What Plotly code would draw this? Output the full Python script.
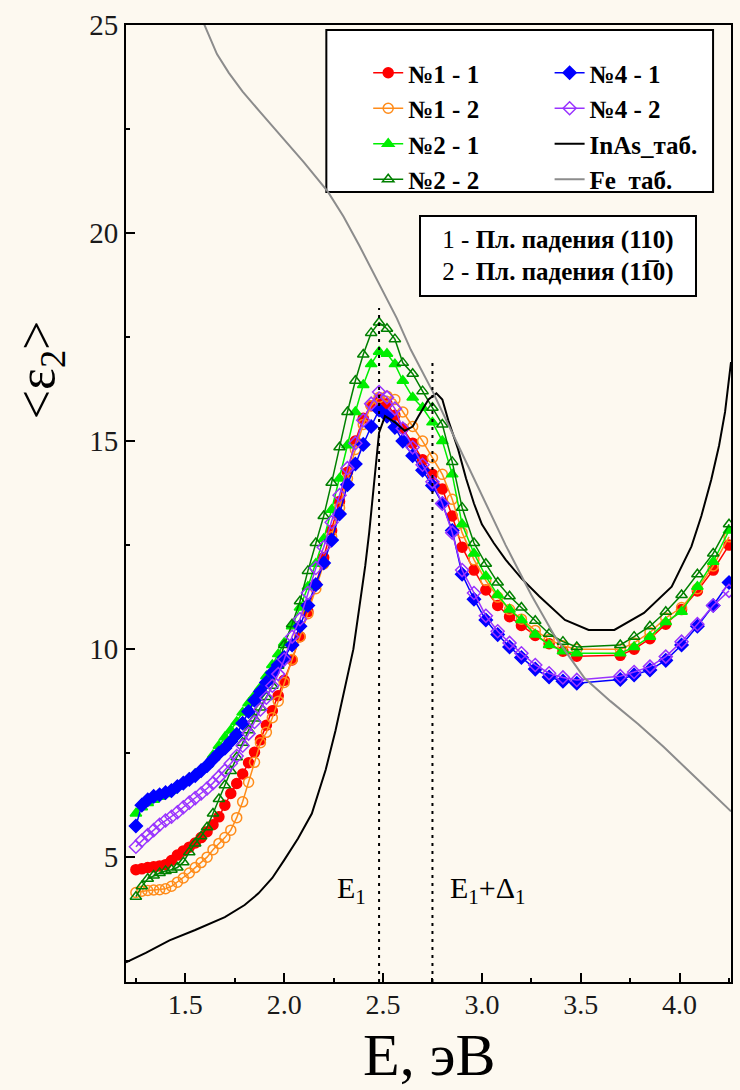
import plotly.graph_objects as go

# ---------------- data ----------------
E = [1.25, 1.28, 1.31, 1.34, 1.37, 1.40, 1.43, 1.46, 1.49, 1.52, 1.55, 1.58, 1.61, 1.64, 1.67,
     1.70, 1.73, 1.76, 1.79, 1.82, 1.85, 1.88, 1.91, 1.94, 1.97, 2.00, 2.04, 2.08, 2.12, 2.16,
     2.20, 2.24, 2.28, 2.32, 2.36, 2.40, 2.44, 2.48, 2.52, 2.56, 2.60, 2.65, 2.70, 2.75, 2.80,
     2.85, 2.90, 2.96, 3.02, 3.08, 3.14, 3.20, 3.27, 3.34, 3.41, 3.48, 3.70, 3.77, 3.85, 3.93,
     4.01, 4.09, 4.17, 4.25]

s1_1 = [4.70, 4.72, 4.75, 4.77, 4.79, 4.82, 4.92, 5.05, 5.15, 5.24, 5.34, 5.47, 5.61, 5.78, 5.97,
        6.25, 6.53, 6.77, 7.00, 7.27, 7.52, 7.82, 8.17, 8.52, 8.88, 9.25, 9.74, 10.30, 10.90, 11.55,
        12.20, 12.85, 13.55, 14.25, 15.00, 15.55, 15.85, 16.00, 15.90, 15.62, 15.30, 14.95, 14.55, 14.20, 13.85,
        13.20, 12.45, 11.90, 11.42, 11.05, 10.78, 10.57, 10.33, 10.13, 9.95, 9.83, 9.85, 10.00, 10.25, 10.60,
        10.95, 11.40, 11.90, 12.50]

s1_2 = [4.15, 4.18, 4.20, 4.21, 4.22, 4.24, 4.30, 4.40, 4.50, 4.62, 4.75, 4.87, 5.00, 5.18, 5.33,
        5.47, 5.65, 5.95, 6.33, 6.80, 7.28, 7.75, 8.00, 8.35, 8.75, 9.20, 9.75, 10.30, 10.85, 11.45,
        12.05, 12.70, 13.40, 14.10, 14.80, 15.40, 15.85, 16.05, 16.08, 16.00, 15.70, 15.35, 15.00, 14.60, 14.20,
        13.60, 12.80, 12.15, 11.65, 11.25, 10.95, 10.72, 10.45, 10.23, 10.08, 10.00, 10.00, 10.15, 10.40, 10.75,
        11.00, 11.45, 12.00, 12.70]

s2_1 = [6.05, 6.20, 6.30, 6.38, 6.45, 6.52, 6.60, 6.70, 6.80, 6.90, 7.00, 7.10, 7.22, 7.45, 7.68,
        7.88, 8.05, 8.25, 8.48, 8.70, 8.88, 9.08, 9.35, 9.62, 9.88, 10.15, 10.55, 11.00, 11.50, 12.05,
        12.65, 13.35, 14.10, 14.90, 15.70, 16.35, 16.85, 17.15, 17.10, 16.85, 16.45, 16.05, 15.80, 15.45, 15.00,
        14.20, 13.00, 12.30, 11.75, 11.30, 10.95, 10.70, 10.35, 10.10, 9.95, 9.90, 9.90, 10.05, 10.30, 10.65,
        10.90, 11.50, 12.10, 12.85]

s2_2 = [4.05, 4.30, 4.48, 4.56, 4.62, 4.67, 4.70, 4.75, 4.88, 5.12, 5.33, 5.50, 5.72, 6.05, 6.40,
        6.73, 7.07, 7.40, 7.75, 8.05, 8.33, 8.60, 8.85, 9.12, 9.60, 10.10, 10.60, 11.15, 11.88, 12.55,
        13.20, 14.00, 14.85, 15.70, 16.45, 17.08, 17.60, 17.85, 17.70, 17.45, 16.88, 16.62, 16.20, 15.80, 15.40,
        14.50, 13.40, 12.55, 12.05, 11.60, 11.27, 11.00, 10.68, 10.37, 10.18, 10.05, 10.10, 10.30, 10.55, 10.90,
        11.30, 11.80, 12.30, 13.00]

s4_1 = [5.75, 6.25, 6.38, 6.46, 6.50, 6.55, 6.60, 6.70, 6.78, 6.87, 6.96, 7.08, 7.20, 7.35, 7.50,
        7.62, 7.78, 7.95, 8.22, 8.50, 8.77, 8.98, 9.20, 9.43, 9.62, 9.80, 10.10, 10.55, 11.05, 11.55,
        12.07, 12.62, 13.25, 13.95, 14.45, 14.92, 15.35, 15.75, 15.60, 15.33, 15.00, 14.65, 14.30, 13.93, 13.50,
        12.85, 11.80, 11.20, 10.70, 10.35, 10.05, 9.80, 9.52, 9.33, 9.23, 9.18, 9.27, 9.38, 9.50, 9.73,
        10.10, 10.55, 11.05, 11.60]

s4_2 = [5.25, 5.40, 5.53, 5.65, 5.78, 5.88, 5.97, 6.08, 6.20, 6.31, 6.42, 6.53, 6.65, 6.78, 6.93,
        7.08, 7.25, 7.43, 7.68, 7.97, 8.25, 8.55, 8.83, 9.12, 9.40, 9.75, 10.30, 10.72, 11.35, 11.95,
        12.45, 13.05, 13.70, 14.35, 14.95, 15.50, 15.90, 16.18, 16.05, 15.78, 15.30, 14.85, 14.43, 14.02, 13.50,
        12.80, 11.90, 11.35, 10.80, 10.43, 10.15, 9.90, 9.62, 9.42, 9.32, 9.26, 9.35, 9.45, 9.58, 9.82,
        10.18, 10.60, 11.05, 11.40]

E_inas = [1.20, 1.30, 1.42, 1.55, 1.70, 1.80, 1.87, 1.94, 2.00, 2.07, 2.14, 2.21, 2.26, 2.31, 2.35,
          2.38, 2.41, 2.43, 2.46, 2.48, 2.51, 2.56, 2.61, 2.65, 2.68, 2.73, 2.77, 2.80, 2.83, 2.88,
          2.92, 2.96, 3.00, 3.06, 3.12, 3.20, 3.29, 3.42, 3.54, 3.67, 3.82, 3.96, 4.06, 4.11, 4.16,
          4.20, 4.23, 4.26]
inas = [2.47, 2.70, 3.00, 3.25, 3.56, 3.85, 4.13, 4.50, 4.93, 5.45, 6.05, 7.10, 8.05, 9.10, 10.00,
        11.00, 12.00, 12.80, 14.20, 15.20, 15.60, 15.45, 15.25, 15.35, 15.60, 16.00, 16.15, 16.00, 15.50, 14.80,
        14.10, 13.50, 13.00, 12.55, 12.15, 11.70, 11.27, 10.70, 10.46, 10.46, 10.87, 11.50, 12.47, 13.20, 14.07,
        14.90, 15.70, 16.90]

E_fe = [1.57, 1.62, 1.66, 1.72, 1.79, 1.88, 1.99, 2.10, 2.22, 2.30, 2.38, 2.49, 2.57, 2.64, 2.75,
        2.85, 2.95, 3.04, 3.12, 3.25, 3.37, 3.52, 3.65, 3.79, 3.92, 4.04, 4.15, 4.26]
fe = [25.30, 24.75, 24.30, 23.85, 23.40, 22.90, 22.30, 21.70, 21.00, 20.40, 19.70, 18.70, 17.95, 17.20, 16.20,
      15.20, 14.20, 13.30, 12.50, 11.30, 10.30, 9.30, 8.75, 8.20, 7.65, 7.10, 6.60, 6.10]

E1 = 2.48          # E1 transition
E1_top = 18.2
E1D = 2.75         # E1 + Delta1 transition
E1D_top = 16.9

x_ticks = [1.5, 2.0, 2.5, 3.0, 3.5, 4.0]
y_ticks = [5, 10, 15, 20, 25]

SERIF = "Liberation Serif, Times New Roman, serif"
BG = "#fdf9f0"

fig = go.Figure()

def meas(y, name, color, symbol, legend):
    fig.add_trace(go.Scatter(
        x=E, y=y, name=name, mode="lines+markers", legend=legend,
        line=dict(color=color, width=1.5),
        marker=dict(symbol=symbol, size=10, color=color,
                    line=dict(color=color, width=1.5)),
    ))

meas(s1_1, "<b>№1 - 1</b>", "#ff0000", "circle", "legend")
meas(s1_2, "<b>№1 - 2</b>", "#ff8c1a", "circle-open", "legend")
meas(s2_1, "<b>№2 - 1</b>", "#00ee00", "triangle-up", "legend")
meas(s2_2, "<b>№2 - 2</b>", "#008000", "triangle-up-open", "legend")
meas(s4_1, "<b>№4 - 1</b>", "#0000ff", "diamond", "legend2")
meas(s4_2, "<b>№4 - 2</b>", "#9933ff", "diamond-open", "legend2")

fig.add_trace(go.Scatter(x=E_inas, y=inas, name="<b>InAs_таб.</b>", mode="lines",
                         legend="legend2", line=dict(color="black", width=2)))
fig.add_trace(go.Scatter(x=E_fe, y=fe, name="<b>Fe_таб.</b>", mode="lines",
                         legend="legend2", line=dict(color="#8c8c8c", width=2)))

for xv, top in [(E1, E1_top), (E1D, E1D_top)]:
    fig.add_trace(go.Scatter(x=[xv, xv], y=[2, top], mode="lines", showlegend=False,
                             hoverinfo="skip",
                             line=dict(color="black", width=2, dash="3px,5px")))

L, R, T, B = 126, 7, 25, 108
W, H = 740, 1090
pw, ph = W - L - R, H - T - B

def px(xp):
    return (xp - L) / pw

def py(yp):
    return (H - B - yp) / ph

leg_common = dict(
    orientation="v", xanchor="left", yanchor="top",
    bgcolor="rgba(0,0,0,0)", borderwidth=0,
    font=dict(family=SERIF, size=25, color="black"),
    traceorder="normal",
)

fig.update_layout(
    width=W, height=H,
    margin=dict(l=L, r=R, t=T, b=B),
    paper_bgcolor=BG, plot_bgcolor=BG,
    font=dict(family=SERIF, color="black"),
    showlegend=True,
    legend=dict(x=px(369), y=py(50), **leg_common),
    legend2=dict(x=px(551), y=py(50), **leg_common),
    xaxis=dict(
        range=[1.2, 4.26], tickvals=x_ticks, ticktext=[f"{v:.1f}" for v in x_ticks],
        ticks="inside", ticklen=9, tickwidth=2, tickcolor="black",
        minor=dict(ticks="inside", ticklen=4, tickwidth=2, dtick=0.5, tick0=1.25, tickcolor="black"),
        showline=True, linecolor="black", linewidth=2, mirror=True,
        showgrid=False, zeroline=False, ticklabelstandoff=-4,
        tickfont=dict(family=SERIF, size=28, color="#1a1a1a"),
    ),
    yaxis=dict(
        range=[2, 25], tickvals=y_ticks,
        ticks="inside", ticklen=9, tickwidth=2, tickcolor="black",
        minor=dict(ticks="inside", ticklen=4, tickwidth=2, dtick=5, tick0=2.5, tickcolor="black"),
        showline=True, linecolor="black", linewidth=2, mirror=True,
        showgrid=False, zeroline=False,
        tickfont=dict(family=SERIF, size=29, color="#1a1a1a"),
    ),
    shapes=[
        dict(type="rect", xref="paper", yref="paper", x0=px(327), x1=px(715), y0=py(192), y1=py(30),
             fillcolor="white", line=dict(color="black", width=2), layer="below"),
    ],
    annotations=[
        dict(text="E, эВ", xref="paper", yref="paper", x=0.5, y=py(1090),
             xanchor="center", yanchor="bottom", showarrow=False,
             font=dict(family=SERIF, size=60, color="black")),
        dict(text="&lt;ε<sub>2</sub>&gt;", xref="paper", yref="paper", x=px(40), y=py(370),
             xanchor="center", yanchor="middle",
             showarrow=False, textangle=-90, font=dict(family=SERIF, size=52, color="black")),
        dict(text="1 - <b>Пл. падения (110)</b><br>2 - <b>Пл. падения (11\u03050)</b>",
             xref="paper", yref="paper", x=px(559), y=py(256), xanchor="center", yanchor="middle",
             showarrow=False,
             bgcolor="white", bordercolor="black", borderwidth=2, borderpad=4,
             width=266, height=70, align="center",
             font=dict(family=SERIF, size=25, color="black")),
        dict(text="E<sub>1</sub>", xref="x", yref="y", x=2.34, y=4.2, showarrow=False,
             xanchor="center", yanchor="middle",
             font=dict(family=SERIF, size=30, color="black")),
        dict(text="E<sub>1</sub>+Δ<sub>1</sub>", xref="x", yref="y", x=3.03, y=4.2, showarrow=False,
             xanchor="center", yanchor="middle",
             font=dict(family=SERIF, size=30, color="black")),
    ],
)

fig.write_html("out.html")
